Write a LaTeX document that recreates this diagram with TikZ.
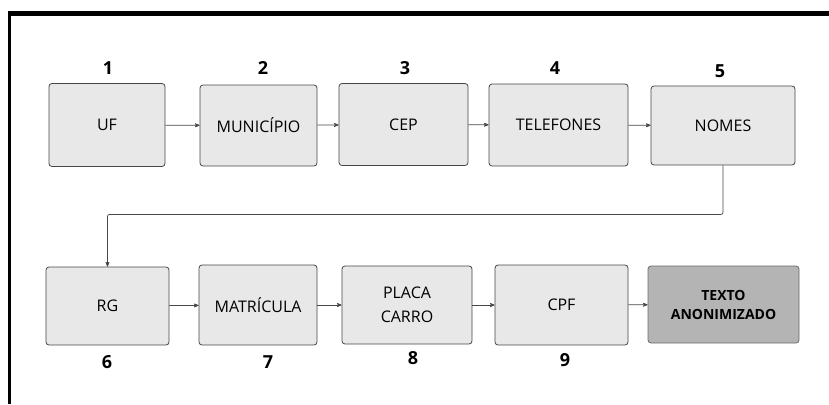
\documentclass[tikz,border=0pt]{standalone}
\usepackage{fontspec}
\setmainfont{Open Sans}
\usepackage{tikz}
\usetikzlibrary{positioning, arrows}
\definecolor{boxfill}{HTML}{E8E8E8}
\definecolor{endfill}{HTML}{B4B4B4}
\definecolor{boxline}{HTML}{464646}
\tikzset{
>=stealth', % small sharp arrow heads
step box/.style={draw=boxline, fill=boxfill, rounded corners=3pt, line width=0.8pt, inner sep=0pt, align=center, font=\fontsize{16}{23.5}\selectfont}, % every field box
end box/.style={step box, fill=endfill, draw=boxline!80, font=\bfseries\fontsize{14}{19}\selectfont}, % final box
step num/.style={font=\bfseries\fontsize{18}{20}\selectfont, inner sep=0pt}, % the order numbers
flow/.style={->, draw=boxline, line width=0.7pt}, % connectors
}
\begin{document}
\begin{tikzpicture}[x=1pt, y=-1pt]
  \useasboundingbox (0,0) rectangle (829,404);
  % frame (top and left edges only)
  \draw[line width=5pt] (7.5,13.5) -- (829,13.5);
  \draw[line width=3.5pt] (9.5,11) -- (9.5,404);
  % first row
  \node[step box, minimum width=116pt, minimum height=83pt] (uf) at (107,125) {UF};
  \node[step box, minimum width=117pt, minimum height=81pt] (mun) at (258.5,125.5) {MUNICÍPIO};
  \node[step box, minimum width=129pt, minimum height=82pt] (cep) at (403.5,124.5) {CEP};
  \node[step box, minimum width=139pt, minimum height=82pt] (tel) at (558.5,125) {TELEFONES};
  \node[step box, minimum width=144pt, minimum height=79pt] (nom) at (723,125.5) {NOMES};
  % second row
  \node[step box, minimum width=123pt, minimum height=78pt] (rg) at (107.5,306) {RG};
  \node[step box, minimum width=118pt, minimum height=80pt] (mat) at (258,305) {MATRÍCULA};
  \node[step box, minimum width=130pt, minimum height=78pt] (pla) at (407,305) {PLACA\\CARRO};
  \node[step box, minimum width=133pt, minimum height=80pt] (cpf) at (561.5,305) {CPF};
  \node[end box, minimum width=151pt, minimum height=77pt] (txt) at (723.5,304.5) {TEXTO\\ANONIMIZADO};
  % numbers
  \node[step num] (num1) at (108,68) {1};
  \node[step num] (num2) at (263,68) {2};
  \node[step num] (num3) at (405,68) {3};
  \node[step num] (num4) at (555,68) {4};
  \node[step num] (num5) at (720,71) {5};
  \node[step num] (num6) at (107,362) {6};
  \node[step num] (num7) at (268,362) {7};
  \node[step num] (num8) at (413,358) {8};
  \node[step num] (num9) at (565,360) {9};
  % connectors
  \draw[flow] (uf) -- (mun);
  \draw[flow] (mun) -- (cep);
  \draw[flow] (cep) -- (tel);
  \draw[flow] (tel) -- (nom);
  \draw[flow, rounded corners=2pt] (nom.south) -- ++(0,49) -| (rg.north);
  \draw[flow] (rg) -- (mat);
  \draw[flow] (mat) -- (pla);
  \draw[flow] (pla) -- (cpf);
  \draw[flow] (cpf) -- (txt);
\end{tikzpicture}
\end{document}
